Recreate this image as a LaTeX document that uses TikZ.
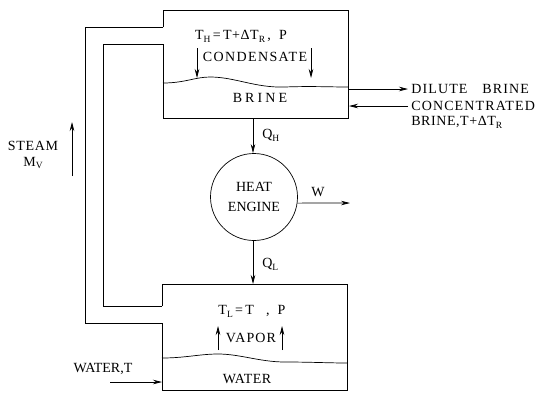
\documentclass[tikz,border=0pt]{standalone}
\usepackage{fontspec}
\setmainfont{Liberation Serif}
\usetikzlibrary{arrows.meta}
\newcommand\sbs[1]{\raisebox{-0.45ex}{\fontsize{9.5}{9.5}\selectfont #1}}
\newcommand\lsp[1]{\addfontfeatures{LetterSpace=#1}}
\begin{document}
\begin{tikzpicture}[x=1pt,y=-1pt, line width=0.7pt,
  arr/.style={-{Stealth[length=9pt,width=4.5pt]}},
  lbl/.style={inner sep=0pt, font=\fontsize{14}{16}\selectfont},
  lbll/.style={lbl, anchor=west}]
\useasboundingbox (0,0) rectangle (538,392);
% --- upper vessel (condenser) ---
\coordinate (uO) at (163,27);
\coordinate (uI) at (163,44);
\draw (uO) -- (163,10) -- (348,10) -- (348,118) -- (163,118) -- (uI);
\draw (163,83) .. controls (185,83) and (195,77) .. (210,77)
      .. controls (235,77) and (255,88) .. (285,87)
      .. controls (310,86) and (330,87) .. (348,87);
% --- lower vessel (evaporator) ---
\coordinate (lI) at (162,306);
\coordinate (lO) at (162,323);
\draw (lI) -- (162,284) -- (347,284) -- (347,390) -- (162,390) -- (lO);
\draw (162,358) .. controls (185,358) and (200,354) .. (218,354)
      .. controls (240,354) and (260,362) .. (285,362)
      .. controls (310,362) and (330,363) .. (347,363);
% --- steam pipes ---
\draw (uO) -- (85,27) -- (85,323) -- (lO);
\draw (uI) -- (103,44) -- (103,306) -- (lI);
% --- heat engine ---
\node[circle, draw, minimum size=87pt, inner sep=0pt, align=center,
      font=\fontsize{14}{19.5}\selectfont] (eng) at (254,197) {HEAT\\ENGINE};
\coordinate (qhs) at (253,118);
\coordinate (qle) at (253,284);
\draw[arr] (qhs) -- (eng.north -| qhs);
\draw[arr] (eng.south -| qle) -- (qle);
\coordinate (wend) at (350,203);
\draw[arr] (eng.-8) -- (wend);
% --- labels ---
\node[lbl] (th) at (241,36) {\lsp{4}T\sbs{H}\,=\,T+ΔT\sbs{R}\,,\ \ P};
\node[lbl] (cond) at (255,57) {\lsp{10}CONDENSATE};
\node[lbl] (brine) at (260,98) {\lsp{22}BRINE};
\node[lbll] (qh) at (262,135) {\lsp{8}Q\sbs{H}};
\node[lbll] (ql) at (262,264) {\lsp{8}Q\sbs{L}};
\node[lbl] (w) at (318,192) {W};
\node[lbl] (tl) at (252,311) {\lsp{4}T\sbs{L}\,=\,T\ \ \ ,\ \ P};
\node[lbl] (vap) at (251,338) {\lsp{8}VAPOR};
\node[lbl] (water) at (247,379) {\lsp{3}WATER};
\node[lbl] (watert) at (103,369) {WATER,T};
\node[lbl] (steam) at (33,146) {\lsp{5}STEAM};
\node[lbl] (mv) at (33,163) {\lsp{5}M\sbs{V}};
\node[lbll] (dil) at (411,89) {\lsp{8}DILUTE\hspace{15pt}BRINE};
\node[lbll] (conc) at (411,106) {\lsp{8}CONCENTRATED};
\node[lbll] (conc2) at (411,122) {\lsp{4}BRINE,T+ΔT\sbs{R}};
% --- flow arrows ---
\coordinate (c1a) at (197,48); \coordinate (c1b) at (197,78);
\coordinate (c2a) at (311,48); \coordinate (c2b) at (311,78);
\draw[arr] (c1a) -- (c1b);
\draw[arr] (c2a) -- (c2b);
\coordinate (v1a) at (218,350); \coordinate (v1b) at (218,326);
\coordinate (v2a) at (282,350); \coordinate (v2b) at (282,326);
\draw[arr] (v1a) -- (v1b);
\draw[arr] (v2a) -- (v2b);
\coordinate (sa) at (72,176); \coordinate (sb) at (72,122);
\draw[arr] (sa) -- (sb);
\coordinate (da) at (348,89); \coordinate (db) at (408,89);
\draw[arr] (da) -- (db);
\coordinate (ca) at (408,106); \coordinate (cb) at (349,106);
\draw[arr] (ca) -- (cb);
\coordinate (wa) at (110,382); \coordinate (wb) at (162,382);
\draw[arr] (wa) -- (wb);
\end{tikzpicture}
\end{document}
